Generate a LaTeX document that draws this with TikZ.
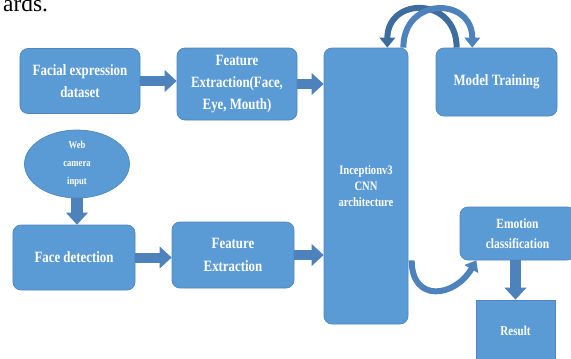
\documentclass[tikz,border=0pt]{standalone}
\usepackage{fontspec}
\setmainfont{Liberation Serif}
\newfontfamily\tallfont[FakeStretch=0.82]{Liberation Serif}
\usetikzlibrary{arrows.meta, shapes.geometric, positioning}
\definecolor{boxblue}{HTML}{5B9BD5}
\definecolor{edgeblue}{HTML}{4F86C0}
\definecolor{arcblue}{HTML}{4D82BC}
\definecolor{darkblue}{HTML}{3D6C9E}
\tikzset{
  blk/.style={draw=edgeblue, fill=boxblue, line width=0.6pt, rounded corners=2.4mm,
    text=white, align=center, inner sep=0pt, font=\tallfont\bfseries\fontsize{13.4}{19}\selectfont},
  flat/.style={blk, rounded corners=0pt},
  flow/.style={draw=arcblue, line width=3mm, -{Triangle[width=6.4mm,length=3.6mm]}},
  curl/.style={line width=1.8mm, -{Triangle[width=4.6mm,length=3mm]}}
}
\begin{document}
\begin{tikzpicture}[x=0.3mm, y=-0.3mm]
\useasboundingbox (0,0) rectangle (571,358);
\node[anchor=base west, font=\fontsize{20}{20}\selectfont] (cutoff) at (-1,11) {ards.};
% top row
\node[blk, minimum width=36mm, minimum height=19.5mm] (facial) at (80,81) {Facial expression\\dataset};
\node[blk, minimum width=36mm, minimum height=21.6mm] (feat1) at (237,84) {Feature\\Extraction(Face,\\Eye, Mouth)};
\node[blk, minimum width=25.2mm, minimum height=82.8mm, font=\tallfont\bfseries\fontsize{11}{13.5}\selectfont] (incep) at (366,186) {Inceptionv3\\CNN\\architecture};
\node[blk, minimum width=36.3mm, minimum height=20.4mm] (model) at (496.5,82) {Model Training};
% bottom row
\node[blk, ellipse, minimum width=31.5mm, minimum height=20.4mm, font=\tallfont\bfseries\fontsize{9}{15.5}\selectfont] (cam) at (77,164) {Web\\camera\\input};
\node[blk, minimum width=36.6mm, minimum height=19.5mm] (facedet) at (74,257.5) {Face detection};
\node[blk, minimum width=36.6mm, minimum height=19.8mm] (feat2) at (233,255) {Feature\\Extraction};
\node[blk, minimum width=34.5mm, minimum height=15.9mm, font=\tallfont\bfseries\fontsize{12}{17}\selectfont] (emo) at (517.5,233.5) {Emotion\\classification};
\node[flat, minimum width=23.7mm, minimum height=18.6mm, font=\tallfont\bfseries\fontsize{11.5}{12}\selectfont] (result) at (515.5,331) {Result};
% block arrows
\draw[flow] (facial.east) -- (facial.east -| feat1.west);
\draw[flow] (feat1.east) -- (feat1.east -| incep.west);
\draw[flow] (facedet.east) -- (facedet.east -| feat2.west);
\draw[flow] (feat2.east) -- (feat2.east -| incep.west);
\draw[flow, line width=3.4mm] (cam.south) -- (cam.south |- facedet.north);
\draw[flow, line width=3.4mm] (emo.south -| result.north) -- (result.north);
% loop with training
\draw[curl, draw=darkblue] ([xshift=6.3mm]model.north west) to[out=90, in=90, looseness=1.9] ([xshift=-6.3mm]incep.north east);
\draw[curl, draw=arcblue] ([xshift=-1.5mm]incep.north east) to[out=90, in=90, looseness=1.9] ([xshift=11mm]model.north west);
\draw[curl, draw=arcblue] ([xshift=1mm]incep.east |- emo.south) to[out=-90, in=-120, looseness=1.7] ([xshift=5mm]emo.south west);
\end{tikzpicture}
\end{document}
